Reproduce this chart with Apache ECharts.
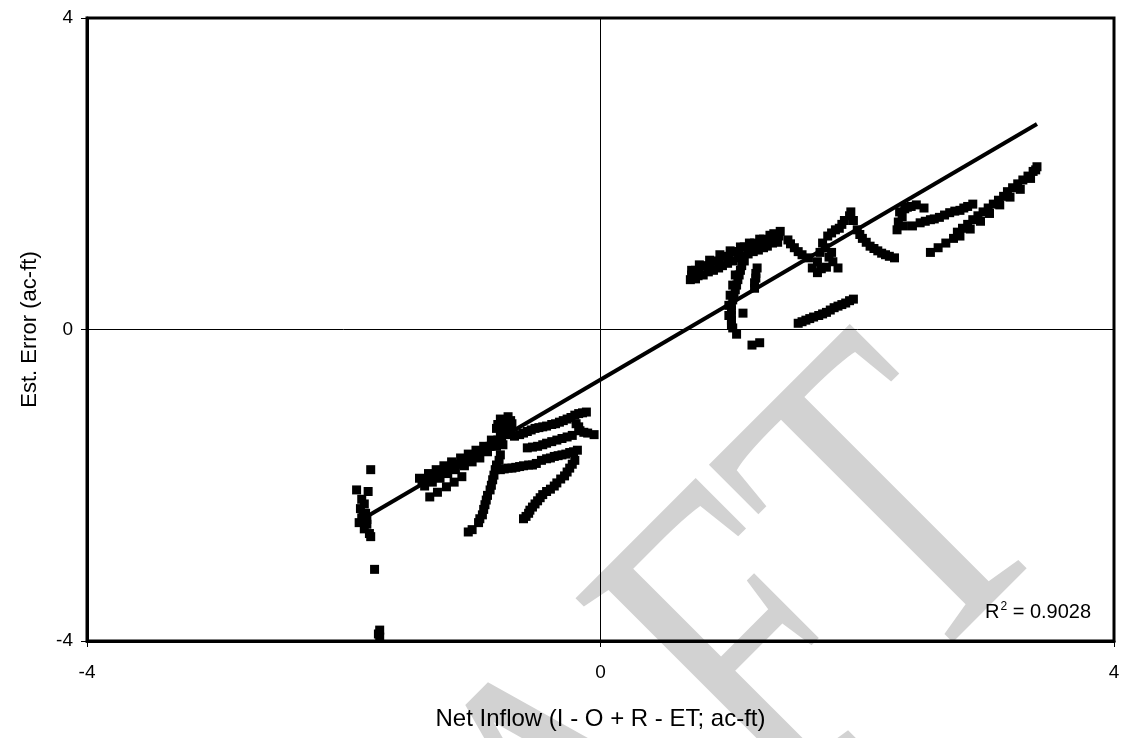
<!DOCTYPE html>
<html>
<head>
<meta charset="utf-8">
<script src="https://cdn.jsdelivr.net/npm/echarts@6/dist/echarts.min.js"></script>
<style>
  html, body { margin: 0; padding: 0; background: #fff; }
  #chart { width: 1124px; height: 738px; }
</style>
</head>
<body>
<div id="chart"></div>
<script>
// Axis range and tick spacing (ac-ft)
const axisMin = -4;
const axisMax = 4;
const tickStep = 4;

// Observations with negative net inflow: [net inflow, estimation error]
const lowerCluster = [
  [-1.79,-1.80],[-1.90,-2.06],[-1.81,-2.08],[-1.86,-2.18],[-1.84,-2.24],[-1.87,-2.30],
  [-1.83,-2.36],[-1.86,-2.42],[-1.88,-2.48],[-1.82,-2.50],[-1.84,-2.56],[-1.80,-2.62],
  [-1.79,-2.66],[-1.85,-2.40],[-1.82,-2.44],[-1.76,-3.08],[-1.72,-3.86],[-1.72,-3.95],[-1.73,-3.91],
  [-1.41,-1.91],[-1.34,-1.85],[-1.28,-1.80],[-1.22,-1.75],[-1.16,-1.70],[-1.09,-1.65],
  [-1.03,-1.60],[-0.97,-1.55],[-0.91,-1.50],[-0.85,-1.42],[-0.78,-1.33],[-0.74,-1.27],[-0.69,-1.21],
  [-1.39,-1.96],[-1.33,-1.91],[-1.27,-1.86],[-1.20,-1.80],[-1.14,-1.75],[-1.08,-1.70],
  [-1.02,-1.65],[-0.95,-1.60],[-0.89,-1.53],[-0.83,-1.46],[-0.77,-1.38],[-0.72,-1.32],
  [-1.36,-1.93],[-1.30,-1.88],[-1.23,-1.83],[-1.17,-1.78],[-1.11,-1.73],[-1.05,-1.68],
  [-0.99,-1.62],[-0.92,-1.56],[-0.86,-1.50],[-0.80,-1.42],[-0.74,-1.35],
  [-1.37,-2.01],[-1.31,-1.96],[-1.25,-1.91],[-1.19,-1.85],[-1.13,-1.80],[-1.06,-1.75],
  [-1.00,-1.70],[-0.94,-1.65],[-0.88,-1.57],[-0.81,-1.50],
  [-1.33,-2.15],[-1.27,-2.09],[-1.20,-2.02],[-1.14,-1.96],[-1.08,-1.89],
  [-0.78,-1.15],[-0.72,-1.12],[-0.81,-1.27],[-0.75,-1.19],[-0.70,-1.17],[-0.80,-1.22],
  [-0.76,-1.32],[-0.70,-1.28],
  [-0.76,-1.48],[-0.78,-1.61],[-0.81,-1.74],[-0.83,-1.87],[-0.85,-2.00],[-0.88,-2.13],
  [-0.90,-2.25],[-0.92,-2.38],[-0.95,-2.48],[-1.00,-2.57],[-1.03,-2.60],
  [-0.79,-1.68],[-0.82,-1.80],[-0.84,-1.93],[-0.86,-2.06],[-0.89,-2.19],[-0.91,-2.31],[-0.94,-2.43],
  [-0.78,-1.80],[-0.72,-1.78],[-0.66,-1.77],[-0.60,-1.75],[-0.53,-1.74],
  [-0.75,-1.79],[-0.69,-1.78],[-0.63,-1.76],[-0.56,-1.74],[-0.50,-1.72],
  [-0.46,-1.68],[-0.39,-1.65],[-0.33,-1.62],[-0.27,-1.60],[-0.21,-1.57],[-0.18,-1.55],
  [-0.42,-1.66],[-0.36,-1.63],[-0.30,-1.61],[-0.24,-1.58],
  [-0.20,-1.68],[-0.24,-1.78],[-0.28,-1.88],[-0.34,-1.97],[-0.39,-2.05],[-0.45,-2.12],
  [-0.49,-2.20],[-0.53,-2.28],[-0.56,-2.36],[-0.60,-2.43],
  [-0.22,-1.73],[-0.26,-1.83],[-0.31,-1.92],[-0.36,-2.01],[-0.42,-2.08],[-0.47,-2.16],
  [-0.51,-2.24],[-0.55,-2.32],[-0.58,-2.40],
  [-0.67,-1.37],[-0.60,-1.33],[-0.54,-1.29],[-0.48,-1.26],[-0.42,-1.24],[-0.35,-1.21],
  [-0.29,-1.17],[-0.23,-1.13],[-0.17,-1.08],[-0.11,-1.06],
  [-0.63,-1.35],[-0.57,-1.31],[-0.51,-1.27],[-0.45,-1.25],[-0.38,-1.22],[-0.32,-1.19],
  [-0.26,-1.15],[-0.20,-1.10],[-0.14,-1.07],
  [-0.19,-1.21],[-0.16,-1.30],[-0.10,-1.33],[-0.05,-1.35],[-0.17,-1.25],[-0.13,-1.32],
  [-0.57,-1.52],[-0.49,-1.50],[-0.42,-1.46],[-0.34,-1.42],[-0.26,-1.38],
  [-0.53,-1.51],[-0.45,-1.48],[-0.38,-1.44],[-0.30,-1.40],[-0.22,-1.36]
];

// Observations with positive net inflow: [net inflow, estimation error]
const upperCluster = [
  [0.71,0.76],[0.77,0.83],[0.85,0.89],[0.93,0.96],[1.01,1.01],[1.09,1.06],[1.16,1.11],
  [1.24,1.16],[1.32,1.21],[1.40,1.26],
  [0.74,0.76],[0.81,0.82],[0.88,0.88],[0.96,0.94],[1.04,1.00],[1.12,1.06],[1.20,1.11],
  [1.27,1.16],[1.35,1.23],
  [0.71,0.70],[0.77,0.75],[0.85,0.82],[0.92,0.87],[1.00,0.93],[1.08,1.00],[1.16,1.05],
  [1.23,1.10],[1.31,1.15],[1.39,1.20],
  [0.74,0.65],[0.80,0.70],[0.88,0.76],[0.95,0.82],[1.03,0.88],[1.11,0.94],[1.19,1.00],
  [1.27,1.05],[1.34,1.11],
  [0.70,0.64],[0.76,0.69],[0.84,0.74],[0.92,0.79],[0.99,0.85],[1.07,0.92],[1.15,0.97],
  [1.23,1.02],[1.30,1.07],[1.38,1.12],
  [1.09,0.76],[1.07,0.64],[1.05,0.51],[1.03,0.38],[1.02,0.25],[1.02,0.12],[1.03,0.02],[1.06,-0.06],
  [1.08,0.70],[1.06,0.57],[1.04,0.44],[1.02,0.31],[1.02,0.18],[1.02,0.06],
  [1.05,0.70],[1.03,0.57],[1.01,0.44],[1.00,0.31],[1.00,0.18],[1.10,0.82],[1.12,0.88],
  [1.22,0.79],[1.21,0.66],[1.20,0.53],[1.21,0.72],[1.20,0.60],
  [1.11,0.21],[1.18,-0.20],[1.24,-0.17],
  [1.46,1.15],[1.51,1.05],[1.57,0.96],[1.62,0.92],[1.48,1.10],[1.54,1.00],
  [1.69,0.73],[1.69,0.87],[1.71,0.99],[1.73,1.11],[1.77,1.20],[1.83,1.28],[1.88,1.35],
  [1.94,1.46],[1.95,1.51],[1.81,0.87],[1.80,0.99],[1.85,0.79],[1.65,0.79],
  [1.75,1.05],[1.78,0.93],[1.76,0.80],[1.72,0.78],[1.86,1.30],[1.90,1.40],[1.80,1.24],[1.97,1.40],
  [2.00,1.28],[2.04,1.17],[2.10,1.07],[2.16,1.01],[2.22,0.96],[2.29,0.92],
  [2.02,1.22],[2.07,1.12],[2.13,1.04],[2.19,0.98],[2.25,0.94],
  [1.54,0.08],[1.60,0.12],[1.66,0.16],[1.73,0.20],[1.79,0.25],[1.85,0.30],[1.91,0.34],[1.97,0.39],
  [1.57,0.10],[1.63,0.14],[1.70,0.18],[1.76,0.22],[1.82,0.28],[1.88,0.32],[1.94,0.37],
  [2.33,1.51],[2.39,1.57],[2.46,1.60],[2.52,1.56],[2.32,1.38],[2.31,1.28],[2.36,1.33],
  [2.37,1.55],[2.42,1.58],[2.35,1.45],
  [2.43,1.33],[2.49,1.37],[2.57,1.41],[2.64,1.44],[2.72,1.50],[2.80,1.53],[2.86,1.58],[2.90,1.61],
  [2.53,1.39],[2.60,1.42],[2.68,1.47],[2.76,1.52],[2.83,1.56],
  [2.57,0.99],[2.63,1.05],[2.69,1.11],[2.75,1.17],[2.78,1.25],[2.82,1.30],[2.86,1.35],
  [2.90,1.41],[2.94,1.46],[2.98,1.51],[3.02,1.56],[3.06,1.61],[3.10,1.66],[3.14,1.71],
  [3.17,1.77],[3.21,1.82],[3.25,1.87],[3.29,1.92],[3.33,1.97],[3.37,2.03],[3.40,2.09],
  [2.80,1.20],[2.88,1.29],[2.96,1.39],[3.03,1.49],[3.11,1.60],[3.19,1.70],[3.27,1.80],
  [3.35,1.94],[3.39,2.05]
];

// Linear trend through the observations (end points)
const trendLine = [[-1.83, -2.41], [3.40, 2.64]];
const rSquared = '0.9028';

const xTitle = 'Net Inflow (I - O + R - ET; ac-ft)';
const yTitle = 'Est. Error (ac-ft)';

const chart = echarts.init(document.getElementById('chart'), null, { renderer: 'canvas' });
const sans = 'Liberation Sans, Arial, sans-serif';
const markStyle = { color: '#000', opacity: 1 };

chart.setOption({
  animation: false,
  backgroundColor: '#fff',
  grid: {
    left: 87, right: 10, top: 18, bottom: 97,
    show: true, borderColor: '#000', borderWidth: 3, backgroundColor: 'transparent'
  },
  xAxis: {
    type: 'value', min: axisMin, max: axisMax, interval: tickStep,
    name: xTitle, nameLocation: 'middle', nameGap: 66,
    nameTextStyle: { color: '#000', fontSize: 24, fontFamily: sans },
    axisLine: { show: true, onZero: false, lineStyle: { color: '#000', width: 3 } },
    axisTick: { show: true, length: 6, lineStyle: { color: '#000', width: 1 } },
    axisLabel: { color: '#000', fontSize: 19, fontFamily: sans, margin: 22 },
    splitLine: { show: true, lineStyle: { color: '#000', width: 1 } }
  },
  yAxis: {
    type: 'value', min: axisMin, max: axisMax, interval: tickStep,
    name: yTitle, nameLocation: 'middle', nameGap: 46, nameRotate: 90,
    nameTextStyle: { color: '#000', fontSize: 22, fontFamily: sans },
    axisLine: { show: true, onZero: false, lineStyle: { color: '#000', width: 3 } },
    axisTick: { show: true, length: 6, lineStyle: { color: '#000', width: 1 } },
    axisLabel: { color: '#000', fontSize: 19, fontFamily: sans, margin: 14 },
    splitLine: { show: true, lineStyle: { color: '#000', width: 1 } }
  },
  graphic: [
    {
      // faint DRAFT stamp behind the plot
      type: 'text', z: -10, silent: true,
      x: 980, y: 446, rotation: Math.PI / 4, scaleX: 0.76,
      style: {
        text: 'DRAFT', font: '455px "Liberation Serif", "Times New Roman", serif',
        align: 'right', verticalAlign: 'middle', fill: '#d2d2d2'
      }
    },
    {
      type: 'text', z: 10, silent: true, x: 985, y: 612,
      style: {
        text: '{r|R}{s|2}{r| = ' + rSquared + '}',
        verticalAlign: 'middle',
        rich: {
          r: { fontSize: 20, fontFamily: sans, fill: '#000' },
          s: { fontSize: 12, fontFamily: sans, fill: '#000', padding: [0, 0, 10, 1] }
        }
      }
    }
  ],
  series: [
    {
      type: 'scatter', data: lowerCluster, symbol: 'rect', symbolSize: 9,
      itemStyle: markStyle, z: 3
    },
    {
      type: 'scatter', data: upperCluster, symbol: 'rect', symbolSize: 9,
      itemStyle: markStyle, z: 3
    },
    {
      type: 'line', data: trendLine, symbol: 'none', z: 4,
      lineStyle: { color: '#000', width: 4 }
    }
  ]
});
</script>
</body>
</html>
